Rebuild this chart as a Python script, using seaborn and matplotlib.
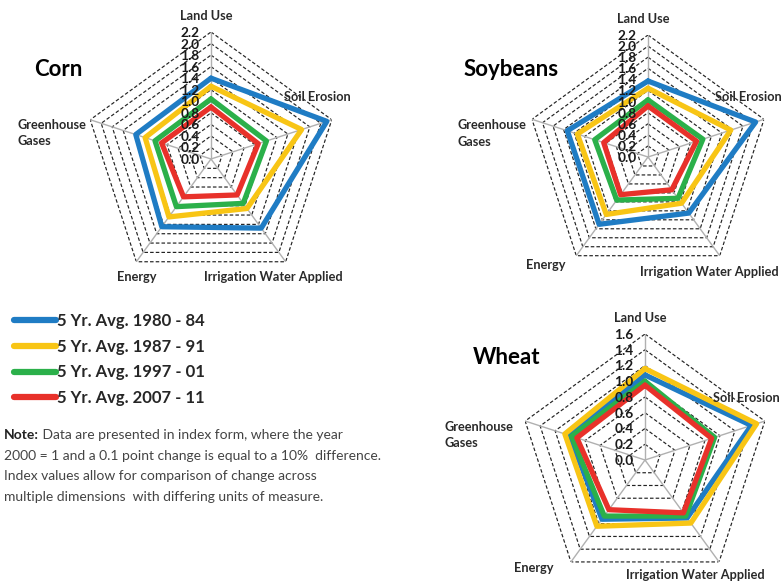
"""Radar charts of resource-use indices for corn, soybeans and wheat."""
import numpy as np
import pandas as pd
from matplotlib import pyplot as plt
from matplotlib import transforms
from matplotlib.lines import Line2D
import seaborn as sns

categories = ["Land Use", "Soil Erosion", "Irrigation Water Applied", "Energy", "Greenhouse\nGases"]
periods = ["5 Yr. Avg. 1980 - 84", "5 Yr. Avg. 1987 - 91", "5 Yr. Avg. 1997 - 01", "5 Yr. Avg. 2007 - 11"]
colors = ["#1f7cc4", "#f8c515", "#2bb04a", "#e8312a"]

corn_1980 = [1.40, 2.11, 1.48, 1.45, 1.37]
corn_1987 = [1.26, 1.65, 1.06, 1.24, 1.20]
corn_1997 = [1.04, 1.01, 0.95, 1.02, 1.02]
corn_2007 = [0.90, 0.86, 0.77, 0.81, 0.90]

soy_1980 = [1.37, 2.04, 1.25, 1.50, 1.53]
soy_1987 = [1.24, 1.57, 1.03, 1.28, 1.34]
soy_1997 = [1.03, 1.04, 0.92, 0.96, 1.01]
soy_2007 = [0.92, 0.92, 0.73, 0.84, 0.84]

wheat_1980 = [1.08, 1.42, 0.91, 0.93, 1.01]
wheat_1987 = [1.16, 1.49, 0.99, 1.04, 1.07]
wheat_1997 = [1.00, 0.93, 0.88, 0.88, 0.98]
wheat_2007 = [0.95, 0.89, 0.83, 0.78, 0.91]

corn_ticks = ["0.0", "0.2", "0.4", "0.6", "0.8", "1.0", "1.2", "1.4", "1.6", "1.8", "2.0", "2.2"]
wheat_ticks = ["0.0", "0.2", "0.4", "0.6", "0.8", "1.0", "1.2", "1.4", "1.6"]

note_lines = [
    "Data are presented in index form, where the year",
    "2000 = 1 and a 0.1 point change is equal to a 10%  difference.",
    "Index values allow for comparison of change across",
    "multiple dimensions  with differing units of measure.",
]

sns.set_style("white")
plt.rcParams["font.family"] = ["Lato", "DejaVu Sans"]

W, H = 783, 584
fig = plt.figure(figsize=(W / 100, H / 100), dpi=100)
bg = fig.add_axes([0, 0, 1, 1])
bg.set_xlim(0, W)
bg.set_ylim(H, 0)
bg.axis("off")

theta = np.linspace(0, 2 * np.pi, len(categories), endpoint=False)
theta_closed = np.append(theta, 2 * np.pi)


def radar(cx, cy, radius, series, ticks, title, title_xy, label_pos):
    ax = fig.add_axes([(cx - radius) / W, 1 - (cy + radius) / H, 2 * radius / W, 2 * radius / H],
                      projection="polar")
    ax.set_theta_offset(np.pi / 2)
    ax.set_theta_direction(-1)
    ax.patch.set_alpha(0)
    rmax = float(ticks[-1])

    # pentagon grid + spokes
    for t in ticks[1:]:
        ax.plot(theta_closed, [float(t)] * len(theta_closed), color="#222222", lw=0.85,
                ls=(0, (3, 1.8)), zorder=1)
    for th in theta:
        ax.plot([th, th], [0, rmax], color="#b0b0b0", lw=1.0, zorder=1)

    rows = []
    for name, vals in zip(periods, series):
        for th, v in zip(theta_closed, vals + vals[:1]):
            rows.append({"theta": th, "value": v, "period": name})
    df = pd.DataFrame(rows)
    sns.lineplot(data=df, x="theta", y="value", hue="period", palette=colors, sort=False,
                 estimator=None, legend=False, lw=3.8, ax=ax, zorder=3)

    ax.set_ylim(0, rmax)
    ax.set_xticks([])
    ax.set_yticks([])
    ax.set_xlabel("")
    ax.set_ylabel("")
    ax.grid(False)
    ax.spines["polar"].set_visible(False)

    shift = transforms.offset_copy(ax.transData, fig=fig, x=-21, y=-1, units="dots")
    for t in ticks:
        ax.text(0, float(t), t, transform=shift, ha="center", va="center", fontsize=9.8,
                fontweight="bold", color="#1a1a1a", zorder=5)

    for lab, (ang, frac, ha) in zip(categories, label_pos):
        ax.text(np.deg2rad(ang), frac * rmax, lab, ha=ha, va="center", fontsize=9.2,
                fontweight="bold", color="#2a2a2a", linespacing=1.45, multialignment="left",
                clip_on=False)

    bg.text(title_xy[0], title_xy[1], title, ha="center", va="center", fontsize=16,
            fontweight="bold", color="black")


radar(211, 159, 127, [corn_1980, corn_1987, corn_1997, corn_2007], corn_ticks, "Corn", (58, 70),
      [(-2, 1.13, "center"), (60, 0.97, "center"), (152.3, 1.05, "center"),
       (212.1, 1.10, "center"), (-82.4, 1.54, "left")])
radar(648, 157, 122, [soy_1980, soy_1987, soy_1997, soy_2007], corn_ticks, "Soybeans", (511, 70),
      [(-2, 1.13, "center"), (59.2, 0.96, "center"), (152.2, 1.07, "center"),
       (223.2, 1.22, "center"), (-83, 1.57, "left")])
radar(645, 460, 126, [wheat_1980, wheat_1987, wheat_1997, wheat_2007], wheat_ticks, "Wheat", (507, 357),
      [(-2, 1.13, "center"), (58.5, 0.94, "center"), (156.3, 1.0, "center"),
       (225.7, 1.23, "center"), (-82.9, 1.60, "left")])

handles = [Line2D([], [], color=c, lw=4.5, solid_capstyle="round") for c in colors]
fig.legend(handles, periods, loc="upper left", bbox_to_anchor=(14 / W, 1 - 313 / H),
           frameon=False, handlelength=2.5, handletextpad=0.08, labelspacing=0.58,
           borderpad=0, borderaxespad=0, prop={"weight": "bold", "size": 12})

note = bg.text(4, 435, "Note:", ha="left", va="center", fontsize=10, fontweight="bold",
               color="#222222")
bg.annotate(" " + note_lines[0], xy=(1, 0.5), xycoords=note, ha="left", va="center",
            fontsize=10, color="#444444")
for i, line in enumerate(note_lines[1:]):
    bg.text(4, 456 + 20.5 * i, line, ha="left", va="center", fontsize=10, color="#444444")

fig.savefig("out.png", dpi=100)
